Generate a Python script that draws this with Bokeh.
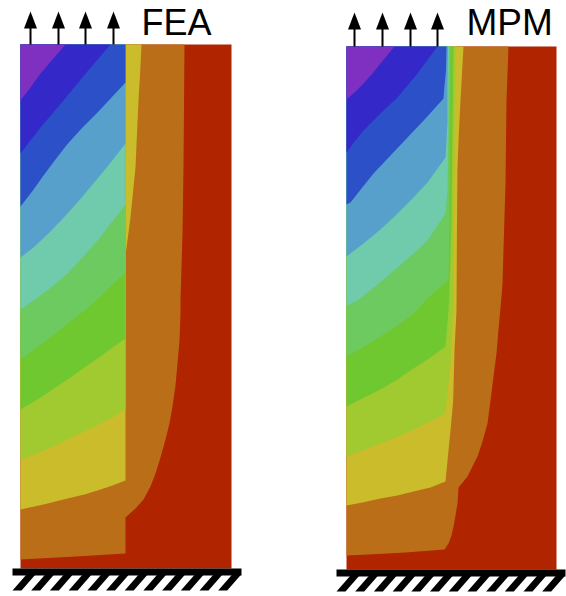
from bokeh.plotting import figure
from bokeh.models import Range1d
from bokeh.embed import file_html
from bokeh.resources import INLINE
from bokeh.core.properties import value

# Contour colours, from the lowest band to the highest
PURPLE, INDIGO, BLUE, STEEL, TEAL = "#8030C0", "#3428C8", "#2C50C8", "#58A0CC", "#70CAAC"
LIGHTGREEN, GREEN, YELLOWGREEN, YELLOW, ORANGE, RED = "#6CCA60", "#70C830", "#A0CA30", "#CABC2A", "#BA6E18", "#B02400"

# Panel extents
fea_x = [20, 231]
fea_y = [44, 568]
mpm_x = [346, 556]
mpm_y = [46, 569]

# FEA contour lines (left edge -> right end)
fea_c1 = [(20, 100), (30, 87), (40, 73), (52, 59), (65, 44)]
fea_c2 = [(20, 153), (30, 140), (40, 127), (51, 114), (63, 100), (86, 72), (110, 44)]
fea_c3 = [(20, 206), (32, 190.5), (43, 175), (55, 159), (67, 143.5), (82, 127), (97, 112), (111, 97), (125, 82)]
fea_c4 = [(20, 257), (33, 247), (50, 231), (67, 213), (82, 196), (97, 178), (111, 161), (125, 143)]
fea_c5 = [(20, 309), (33, 300), (50, 287.5), (67, 273), (82, 257), (97, 240), (111, 222), (125, 204)]
fea_c6 = [(20, 359), (32, 350), (43, 342), (55, 333), (67, 323), (84, 310), (100, 296), (112, 284), (125, 272)]
fea_c7 = [(20, 409), (32, 402), (43, 395), (55, 387), (67, 379), (84, 367), (100, 356), (112, 347), (125, 338)]
fea_c8 = [(20, 459), (32, 455), (43, 450), (55, 445), (67, 439), (84, 431), (100, 423), (112, 417), (125, 409)]
fea_c9 = [(20, 509), (43, 504), (67, 498), (84, 494), (100, 489), (112, 485), (125, 480)]
fea_c10 = [(20, 559), (75, 556), (125, 553)]
fea_yellow_strip = [(125, 44), (141, 44), (139.5, 75), (138, 100), (135, 167), (130, 217), (125, 255)]
fea_orange_edge = [(184, 44), (183, 167), (182, 233), (180, 300), (180, 313), (179, 340), (177, 363),
                   (175, 385), (172, 406), (169, 423), (165, 439), (160, 457), (155, 473), (150, 486),
                   (143, 499), (135, 508), (125, 517)]

# MPM contour lines (left edge -> right end)
mpm_c1 = [(346, 99), (355, 91), (363, 83), (372, 73), (380, 63), (394, 46)]
mpm_c2 = [(346, 152), (354, 141), (363, 130), (380, 113), (397, 97), (417, 73), (437, 46)]
mpm_c3 = [(346, 204), (350, 202), (361, 188), (373, 173), (390, 155), (407, 137), (425, 118), (443, 98)]
mpm_c4 = [(346, 256), (363, 243), (380, 229), (397, 213), (412, 198), (427, 182), (445, 157)]
mpm_c5 = [(346, 305), (357, 300), (377, 284), (397, 267), (412, 254), (427, 240), (445, 213)]
mpm_c6 = [(346, 356), (362, 347), (380, 336), (397, 325), (413, 313), (427, 298), (437, 289), (448, 280)]
mpm_c7 = [(346, 406), (362, 398), (380, 389), (397, 379), (413, 368), (430, 357), (445, 346)]
mpm_c8 = [(346, 456), (362, 450), (380, 443), (397, 436), (413, 429), (430, 421), (445, 413)]
mpm_c9 = [(346, 505), (362, 502), (380, 498), (397, 495), (413, 491), (430, 487), (445, 481)]
mpm_c10 = [(346, 555), (368, 554), (405, 552), (444, 549)]

# MPM right-hand edges of the bands (top -> corner)
mpm_blue_edge = [(446, 46), (445.5, 70), (444, 85), (443, 98)]
mpm_steel_edge = [(447.5, 46), (447, 80), (447, 120), (446, 140), (445, 157)]
mpm_teal_edge = [(448.5, 46), (448, 110), (447.5, 160), (447, 190), (445, 213)]
mpm_lightgreen_edge = [(450, 46), (449.5, 130), (449, 220), (448, 280)]
mpm_green_edge = [(453, 46), (452, 130), (451, 220), (449, 290), (448, 310), (445, 346)]
mpm_yg_edge = [(455, 46), (454, 130), (453.5, 220), (453, 310), (450, 363), (445, 413)]
mpm_yellow_edge = [(463, 46), (460, 100), (458.5, 130), (457, 167), (456.5, 220), (456, 310),
                   (454, 350), (452.7, 400), (450, 430), (448, 450), (445, 481)]
mpm_orange_edge = [(508, 46), (506, 100), (505, 183), (502, 283), (501, 296), (498, 329),
                   (496, 353), (493, 376), (490, 400), (487, 423), (482, 441), (477, 456), (467, 476), (458, 487), (457, 503),
                   (455, 515), (453, 526), (451, 535), (448, 543), (444, 549)]

# Arrows, clamped bases, titles
fea_arrows = [30, 58, 85, 113]
mpm_arrows = [354, 382, 410, 437]
fea_base = [12, 241]
mpm_base = [336, 565]
fea_title = "FEA"
mpm_title = "MPM"

p = figure(width=566, height=596, x_range=Range1d(0, 566), y_range=Range1d(596, 0),
           output_backend="svg", toolbar_location=None, min_border=0)
p.xaxis.visible = False
p.yaxis.visible = False
p.grid.visible = False
p.outline_line_color = None


def fill(points, color):
    p.patch([q[0] for q in points], [q[1] for q in points], fill_color=color, line_color=None)


def band(top_left, right_edge, contour, color):
    fill([top_left] + right_edge + contour[::-1], color)


# FEA
fill([(fea_x[0], fea_y[0]), (fea_x[1], fea_y[0]), (fea_x[1], fea_y[1]), (fea_x[0], fea_y[1])], RED)
tl = (fea_x[0], fea_y[0])
band(tl, fea_orange_edge, fea_c10, ORANGE)
fill(fea_yellow_strip, YELLOW)
tr = [(125, fea_y[0])]
for contour, color in [(fea_c9, YELLOW), (fea_c8, YELLOWGREEN), (fea_c7, GREEN),
                       (fea_c6, LIGHTGREEN), (fea_c5, TEAL), (fea_c4, STEEL), (fea_c3, BLUE)]:
    band(tl, tr, contour, color)
band(tl, [], fea_c2, INDIGO)
band(tl, [], fea_c1, PURPLE)

# MPM
fill([(mpm_x[0], mpm_y[0]), (mpm_x[1], mpm_y[0]), (mpm_x[1], mpm_y[1]), (mpm_x[0], mpm_y[1])], RED)
tl = (mpm_x[0], mpm_y[0])
for edge, contour, color in [(mpm_orange_edge, mpm_c10, ORANGE), (mpm_yellow_edge, mpm_c9, YELLOW),
                             (mpm_yg_edge, mpm_c8, YELLOWGREEN), (mpm_green_edge, mpm_c7, GREEN),
                             (mpm_lightgreen_edge, mpm_c6, LIGHTGREEN), (mpm_teal_edge, mpm_c5, TEAL),
                             (mpm_steel_edge, mpm_c4, STEEL), (mpm_blue_edge, mpm_c3, BLUE)]:
    band(tl, edge, contour, color)
band(tl, [], mpm_c2, INDIGO)
band(tl, [], mpm_c1, PURPLE)


def arrows(xs, top, bottom):
    p.segment(xs, [top + 16] * len(xs), xs, [bottom] * len(xs), line_color="black", line_width=2)
    for x in xs:
        fill([(x, top), (x + 6.5, top + 17), (x - 6.5, top + 17)], "black")


arrows(fea_arrows, 11, 44)
arrows(mpm_arrows, 12, 46)


def clamp(base, top):
    x0, x1 = base
    fill([(x0, top), (x1, top), (x1, top + 7), (x0, top + 7)], "black")
    x = x0
    while x + 23 <= x1 + 1:
        fill([(x, top + 22), (x + 9, top + 22), (x + 23, top + 6), (x + 14, top + 6)], "black")
        x += 18.7


clamp(fea_base, 568)
clamp(mpm_base, 569)

p.text([141], [22], text=[fea_title], text_font=value("Liberation Sans"), text_font_size="36px",
       text_color="black", text_baseline="middle", text_align="left")
p.text([466], [22], text=[mpm_title], text_font=value("Liberation Sans"), text_font_size="37px",
       text_color="black", text_baseline="middle", text_align="left")

open("out.html", "w").write(file_html(p, INLINE))
